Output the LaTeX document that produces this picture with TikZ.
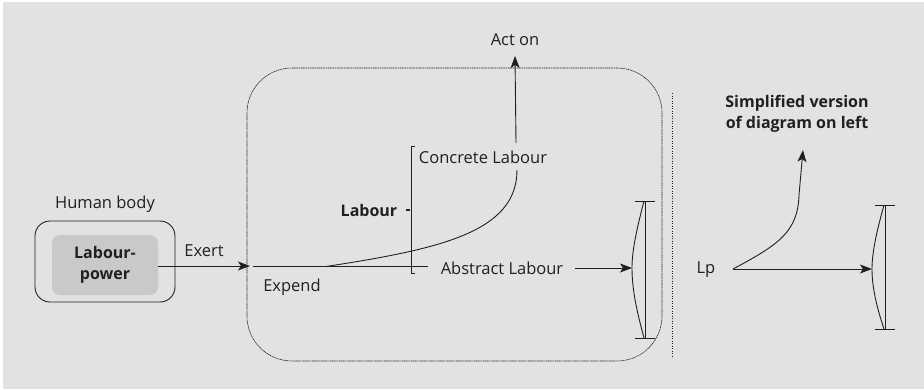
\documentclass[tikz,border=0pt]{standalone}
\usepackage{fontspec}
\setmainfont{Open Sans}
\usetikzlibrary{arrows.meta}
\definecolor{bg}{HTML}{E1E2E3}
\definecolor{ink}{HTML}{231F20}
\definecolor{innerfill}{HTML}{C8C9CA}
\begin{document}
\begin{tikzpicture}[x=1pt,y=-1pt,
  every node/.style={inner sep=0pt,outer sep=0pt,text=ink,font=\fontsize{16.5}{19}\selectfont},
  ln/.style={draw=ink,line width=0.9pt},
  arr/.style={ln,-{Stealth[length=12pt,width=9pt,inset=3pt]}},
  lbl/.style={},
  bld/.style={font=\fontsize{16}{21}\selectfont\bfseries}]
\useasboundingbox (0,0) rectangle (924,389);
\fill[white] (0,0) rectangle (924,389);
\fill[bg] (3,2) rectangle (924,389);

% left: human body
\node[lbl] (hb) at (105,204) {Human body};
\node[ln,rounded corners=15pt,minimum width=140pt,minimum height=81pt] (body) at (105,261.5) {};
\node[fill=innerfill,rounded corners=8pt,minimum width=106pt,minimum height=60pt,align=center,bld] (lp) at (105,265) {Labour-\\power};
\coordinate (exin) at (250,266);
\draw[arr] (lp.east |- exin) -- node[above=9pt,lbl] (exert) {Exert} (exin);

% big dotted box
\node[draw=ink,line width=0.6pt,dash pattern=on 1.2pt off 0.6pt,rounded corners=45pt,minimum width=415pt,minimum height=293pt] (big) at (454.5,214.5) {};

\coordinate (l0) at (253,266.5);
\coordinate (l1) at (428,266.5);
\draw[ln] (l0) -- (l1);
\node[lbl] (expend) at (292,287) {Expend};

\coordinate (c0) at (326,266.5);
\coordinate (c1) at (517,170);
\draw[ln] (c0) .. controls (440,249) and (517,232) .. (c1);
\node[lbl] (concrete) at (483,157) {Concrete Labour};

\coordinate (a0) at (516,143);
\node[lbl] (acton) at (515,40) {Act on};
\draw[arr] (a0) -- (acton.south |- 0,56);

% bracket
\coordinate (b0) at (411,146);
\coordinate (b1) at (411,273);
\draw[ln] ([xshift=4pt]b0) -- (b0) -- (b1) -- ([xshift=4pt]b1);
\coordinate (bm) at (409.5,210);
\draw[draw=ink,line width=1.3pt] (bm) -- ++(-4,0);
\node[bld] (labour) at (369,210) {Labour};

\node[lbl] (abstract) at (502,268) {Abstract Labour};
\coordinate (bow1) at (632,268);
\draw[arr] (575,268) -- (bow1);

% right bar 1
\coordinate (t1) at (645,201);
\coordinate (u1) at (645,338);
\draw[ln] (t1) -- (u1);
\draw[ln] ([xshift=-10pt]t1) -- ([xshift=10pt]t1);
\draw[ln] ([xshift=-10pt]u1) -- ([xshift=10pt]u1);
\draw[ln] ([xshift=-1pt]t1) .. controls (637,228) and (632,250) .. (bow1) .. controls (632,290) and (637,312) .. ([xshift=-1pt]u1);

% divider
\draw[ink,line width=1pt,dash pattern=on 1.2pt off 1.3pt] (672,93) -- (672,358);

% simplified
\node[bld,align=center] (simp) at (797,114) {Simplified version\\of diagram on left};
\node[lbl] (lpp) at (706,270) {Lp};
\coordinate (s0) at (733,269);
\coordinate (bow2) at (872,269);
\draw[arr] (s0) -- (bow2);
\draw[arr] (s0) .. controls (778,245) and (798,232) .. (799,195) -- (803,150);

\coordinate (t2) at (885,205);
\coordinate (u2) at (885,329);
\draw[ln] (t2) -- (u2);
\draw[ln] ([xshift=-10pt]t2) -- ([xshift=10pt]t2);
\draw[ln] ([xshift=-10pt]u2) -- ([xshift=10pt]u2);
\draw[ln] ([xshift=-1pt]t2) .. controls (877,230) and (872,252) .. (bow2) .. controls (872,288) and (877,308) .. ([xshift=-1pt]u2);
\end{tikzpicture}
\end{document}
